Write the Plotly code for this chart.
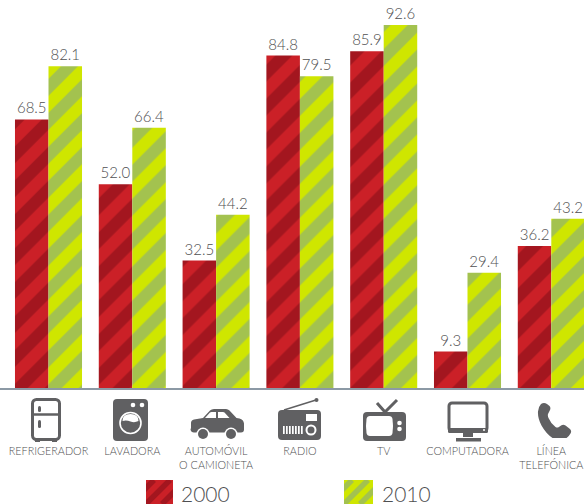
import base64
import plotly.graph_objects as go

categories = ["REFRIGERADOR", "LAVADORA", "AUTOMÓVIL<br>O CAMIONETA", "RADIO", "TV", "COMPUTADORA", "LÍNEA<br>TELEFÓNICA"]
positions = [0, 1, 2, 3, 4, 5, 6]
values_2000 = [68.5, 52.0, 32.5, 84.8, 85.9, 9.3, 36.2]
values_2010 = [82.1, 66.4, 44.2, 79.5, 92.6, 29.4, 43.2]
series_names = ["2000", "2010"]

W, H = 584, 504
BASE = 388
GREY = "#606062"
TXT = "#4f4f51"
RED, RED_D = "#cb2027", "#a3161f"
GRN, GRN_D = "#cfe600", "#a3c24f"
FONT = "Lato, 'Open Sans', sans-serif"


def data_uri(x0, y0, x1, y1, inner):
    svg = (f'<svg xmlns="http://www.w3.org/2000/svg" width="{x1-x0}" height="{y1-y0}" '
           f'viewBox="{x0} {y0} {x1-x0} {y1-y0}">{inner}</svg>')
    return "data:image/svg+xml;base64," + base64.b64encode(svg.encode()).decode()


def img(x0, y0, x1, y1, inner):
    return dict(source=data_uri(x0, y0, x1, y1, inner), xref="paper", yref="paper",
                x=x0 / W, y=(BASE - y0) / BASE, sizex=(x1 - x0) / W, sizey=(y1 - y0) / BASE,
                xanchor="left", yanchor="top", sizing="stretch", layer="above")


g = GREY
fridge = (f'<rect x="32.5" y="399.5" width="27" height="40" rx="4" fill="none" stroke="{g}" stroke-width="3"/>'
          f'<path d="M32 414.5H60" stroke="{g}" stroke-width="2.5"/>'
          f'<rect x="38" y="406" width="3" height="6" rx="1.5" fill="{g}"/>'
          f'<rect x="38" y="420" width="3" height="8" rx="1.5" fill="{g}"/>'
          f'<path d="M35 440h5v2h-5zM52 440h5v2h-5z" fill="{g}"/>')
washer = (f'<rect x="113" y="399" width="35" height="42" rx="4" fill="{g}"/>'
          f'<circle cx="133" cy="405" r="2.3" fill="#fff"/><circle cx="142" cy="405" r="2.3" fill="#fff"/>'
          f'<circle cx="130.5" cy="423" r="10.5" fill="{g}" stroke="#fff" stroke-width="1.6"/>'
          f'<path d="M122.5 421 q0 -7 8 -7 q8 0 8 7 q-4 2 -8 0.5 q-4 -1.5 -8 -0.5Z" fill="#fff"/>')
car = (f'<path d="M191 428 v-5 q0 -3 3 -3.5 l9 -1.5 l7 -7.5 q1.5 -1.5 4 -1.5 h12 q2 0 3.5 1.5 l7 7.5 l3 0.5 q4 1 4.5 5 v6 q0 3 -3 3 h-47 q-3 0 -3.5 -3 z" fill="{g}"/>'
       f'<path d="M205 418 l5 -5.5 q0.6 -0.5 1.5 -0.5 h4.5 v6z M218 412 h5 q1 0 1.5 0.6 l5 5.4 h-11.5z" fill="#fff"/>'
       f'<circle cx="203" cy="434" r="6.5" fill="#fff"/><circle cx="203" cy="434" r="5" fill="{g}"/>'
       f'<circle cx="231" cy="434" r="6.5" fill="#fff"/><circle cx="231" cy="434" r="5" fill="{g}"/>')
bars_radio = "".join(f'<rect x="{283 + i * 3}" y="426" width="1.7" height="8" fill="#fff"/>' for i in range(7))
radio = (f'<path d="M284 410 L316 400" stroke="{g}" stroke-width="1.5"/><circle cx="316.5" cy="400" r="2" fill="{g}"/>'
         f'<rect x="278" y="410" width="43" height="30" rx="4" fill="{g}"/>'
         f'<rect x="306" y="414" width="11" height="7" fill="#fff"/>'
         f'<circle cx="311" cy="430" r="4.5" fill="none" stroke="#fff" stroke-width="2"/>' + bars_radio)
tv = (f'<path d="M377 403 L385 412 L397 400" fill="none" stroke="{g}" stroke-width="3"/>'
      f'<rect x="363" y="412" width="43" height="29" rx="4" fill="{g}"/>'
      f'<path d="M370 416 h19 q3 0 3.5 3 q1 7 0 14 q-0.5 3 -3.5 3 h-19 q-3 0 -3.5 -3 q-1 -7 0 -14 q0.5 -3 3.5 -3z" fill="#fff"/>'
      f'<circle cx="399.5" cy="423" r="2.3" fill="#fff"/><circle cx="399.5" cy="429" r="2.3" fill="#fff"/>')
computer = (f'<rect x="449" y="403" width="38" height="28" rx="3" fill="#fff" stroke="{g}" stroke-width="3"/>'
            f'<rect x="448" y="428" width="40" height="5" rx="1.5" fill="{g}"/>'
            f'<circle cx="484" cy="430" r="1" fill="#fff"/>'
            f'<rect x="463" y="433" width="10" height="4" fill="{g}"/>'
            f'<rect x="456" y="438" width="25" height="3.5" fill="{g}"/>')
phone = (f'<path d="M541 404 q3 -2 6 0 l2.5 2 q1.5 1.5 0.5 4 l-2 4 q-0.5 2 0.5 4 q2 5 7 9 q1.5 1 3 0.3 l3 -2 q2 -1 4 0.3 l4.5 3.5 q2 2 0.5 4.5 q-2 4 -7 6 q-5 1.5 -10 -1 q-7 -4 -12 -13 q-4 -8 -3.5 -14 q0.5 -5 3 -7.5z" fill="{g}"/>')


def stripes(x0, y0, x1, y1, bg, fg):
    out = f'<rect x="{x0}" y="{y0}" width="{x1-x0}" height="{y1-y0}" fill="{bg}"/>'
    for k in range(-1, 4):
        c = x0 + k * 16
        out += f'<path d="M{c} {y1}L{c + (y1 - y0)} {y0}" stroke="{fg}" stroke-width="5.5"/>'
    return out


images = [
    img(28, 396, 64, 444, fridge),
    img(110, 396, 151, 444, washer),
    img(188, 406, 247, 443, car),
    img(276, 396, 323, 442, radio),
    img(361, 397, 408, 443, tv),
    img(446, 400, 490, 444, computer),
    img(536, 401, 573, 438, phone),
    img(146, 480, 173, 504, stripes(146, 480, 173, 504, RED, RED_D)),
    img(344, 480, 373, 504, stripes(344, 480, 373, 504, GRN, GRN_D)),
]

fig = go.Figure()
for name, vals, bg, fg in [(series_names[0], values_2000, RED, RED_D), (series_names[1], values_2010, GRN, GRN_D)]:
    fig.add_trace(go.Bar(
        x=positions, y=vals, name=name,
        text=[f"{v:.1f}" for v in vals], textposition="outside", cliponaxis=False,
        textfont=dict(family=FONT, size=15, color=TXT, weight=300),
        marker=dict(color=bg, line=dict(width=0),
                    pattern=dict(shape="/", bgcolor=bg, fgcolor=fg, size=24, solidity=0.5, fillmode="replace")),
    ))

STEP = 83.8
C0 = 48.5
fig.update_layout(
    width=W, height=H, autosize=False,
    margin=dict(l=0, r=0, t=0, b=H - BASE, pad=0),
    paper_bgcolor="#fff", plot_bgcolor="#fff",
    barmode="group", bargap=0.2, bargroupgap=0, showlegend=False,
    font=dict(family=FONT, color=TXT),
    xaxis=dict(range=[-C0 / STEP, (W - C0) / STEP], tickvals=positions, ticktext=categories,
               showgrid=False, zeroline=False, showline=True, linecolor="#8c99a5", linewidth=2,
               ticks="outside", ticklen=52, tickcolor="rgba(0,0,0,0)",
               tickfont=dict(family=FONT, size=10.8, color=TXT, weight=300), tickangle=0),
    yaxis=dict(range=[0, BASE / 3.92], visible=False, fixedrange=True),
    images=images,
    annotations=[
        dict(text=series_names[0], xref="paper", yref="paper", x=179 / W, y=(BASE - 494) / BASE,
             xanchor="left", yanchor="middle", showarrow=False, font=dict(family=FONT, size=21, color=TXT, weight=300)),
        dict(text=series_names[1], xref="paper", yref="paper", x=380 / W, y=(BASE - 494) / BASE,
             xanchor="left", yanchor="middle", showarrow=False, font=dict(family=FONT, size=21, color=TXT, weight=300)),
    ],
)
fig.write_html("out.html", config={"displayModeBar": False},
               post_script="document.body.style.margin='0';document.documentElement.style.overflow='hidden';")
